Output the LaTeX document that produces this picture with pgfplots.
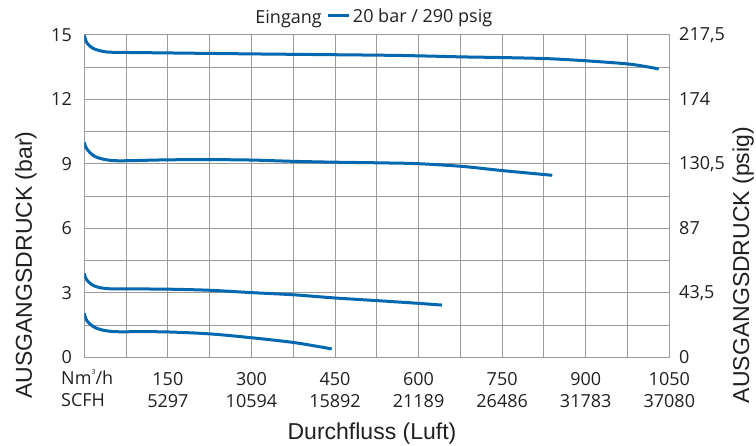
\documentclass[border=0pt]{standalone}
\usepackage{pgfplots}
\pgfplotsset{compat=1.18}
\usepackage{fontspec}
\setmainfont{Open Sans}
\newfontfamily\labelfont{Liberation Sans}
\definecolor{curve}{RGB}{0,103,177}
\definecolor{gridc}{RGB}{155,155,155}
\definecolor{txt}{RGB}{35,31,32}

\pgfplotstableread{
x y
0 15.0
2 14.8
5 14.62
10 14.48
18 14.35
28 14.27
40 14.21
60 14.19
100 14.18
300 14.12
530 14.06
600 14.03
680 13.98
750 13.95
830 13.9
900 13.8
980 13.64
1031 13.42
}\curveA

\pgfplotstableread{
x y
0 10.0
2 9.82
5 9.68
10 9.53
18 9.36
28 9.26
40 9.19
55 9.15
80 9.15
150 9.19
225 9.2
300 9.18
375 9.12
450 9.08
530 9.05
600 9.01
680 8.88
750 8.69
840 8.47
}\curveB

\pgfplotstableread{
x y
0 3.9
2 3.72
5 3.58
10 3.45
18 3.32
28 3.24
40 3.2
55 3.18
100 3.18
150 3.17
225 3.12
300 3.01
375 2.91
450 2.76
530 2.63
600 2.51
642 2.43
}\curveC

\pgfplotstableread{
x y
0 2.05
2 1.85
5 1.68
10 1.55
18 1.4
28 1.3
40 1.23
58 1.19
100 1.19
150 1.18
225 1.09
300 0.91
378 0.68
444 0.39
}\curveD

\begin{document}
\begin{tikzpicture}
\useasboundingbox (-84.3pt,-88.7pt) rectangle (671.7pt,357.3pt);
\begin{axis}[
  at={(0pt,0pt)}, anchor=south west,
  scale only axis, width=585pt, height=322.3pt,
  xmin=0, xmax=1050, ymin=0, ymax=15,
  xtick={0,75,150,225,300,375,450,525,600,675,750,825,900,975,1050},
  xticklabels={{},{},{150\\5297},{},{300\\10594},{},{450\\15892},{},{600\\21189},{},{750\\26486},{},{900\\31783},{},{1050\\37080}},
  ytick={0,1.5,3,4.5,6,7.5,9,10.5,12,13.5,15},
  yticklabels={0,,3,,6,,9,,12,,15},
  grid=major,
  major grid style={gridc, line width=1pt},
  axis line style={gridc, line width=1pt},
  major tick length=0pt,
  tick style={draw=none},
  ticklabel style={font=\fontsize{18}{21.7}\selectfont, text=txt},
  xticklabel style={align=center, anchor=north, inner sep=0pt, yshift=-14.85pt},
  yticklabel style={anchor=east, inner sep=0pt, xshift=-12.3pt},
  legend style={at={(0.4145,1.059)}, anchor=west, draw=none, fill=none, inner sep=0pt,
    font=\fontsize{18}{20}\selectfont, text=txt,
    /tikz/every even column/.append style={column sep=0pt}},
  legend image code/.code={\draw[#1] (0pt,0pt) -- (21pt,0pt);},
]
\addplot[curve, line width=3pt, smooth, tension=0.5] table {\curveA};
\addlegendentry{20 bar / 290 psig}
\addplot[curve, line width=3pt, smooth, tension=0.5] table {\curveB};
\addplot[curve, line width=3pt, smooth, tension=0.5] table {\curveC};
\addplot[curve, line width=3pt, smooth, tension=0.5] table {\curveD};
\end{axis}
\begin{axis}[
  at={(0pt,0pt)}, anchor=south west,
  scale only axis, width=585pt, height=322.3pt,
  xmin=0, xmax=1050, ymin=0, ymax=15,
  axis x line=none, axis y line*=right,
  axis line style={gridc, line width=1pt},
  ytick={0,3,6,9,12,15},
  yticklabels={0,{43,5},87,{130,5},174,{217,5}},
  major tick length=0pt, tick style={draw=none},
  yticklabel style={font=\fontsize{18}{21.7}\selectfont, text=txt, anchor=west, inner sep=0pt, xshift=9.7pt},
]
\end{axis}
\node[anchor=base west, inner sep=0pt, text=txt, font=\fontsize{18}{21.7}\selectfont] at (-23.3pt,-27.7pt) {Nm\raisebox{1.1ex}{\fontsize{7}{7}\selectfont 3}/h};
\node[anchor=base west, inner sep=0pt, text=txt, font=\fontsize{18}{21.7}\selectfont] at (-23.3pt,-49.4pt) {SCFH};
\node[anchor=base east, inner sep=0pt, text=txt, font=\fontsize{18}{20}\selectfont] at (237.7pt,334pt) {Eingang};
\node[anchor=base, inner sep=0pt, text=txt, font=\labelfont\fontsize{23}{25}\selectfont] at (287.7pt,-82.7pt) {Durchfluss (Luft)};
\node[anchor=base, rotate=90, inner sep=0pt, text=txt, font=\labelfont\fontsize{23}{25}\selectfont] at (-52.3pt,92.3pt) {AUSGANGSDRUCK (bar)};
\node[anchor=base, rotate=90, inner sep=0pt, text=txt, font=\labelfont\fontsize{23}{25}\selectfont] at (664.7pt,92.3pt) {AUSGANGSDRUCK (psig)};
\end{tikzpicture}
\end{document}
